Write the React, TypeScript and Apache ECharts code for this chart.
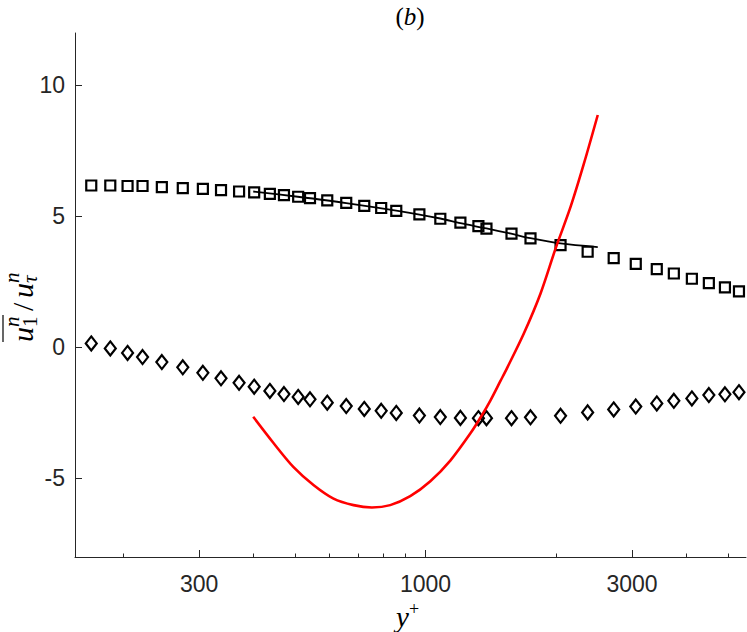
import React, { useEffect, useRef } from "react";
import * as echarts from "echarts";

// y+ positions shared by both marker series
const yPlus = [169, 187, 205, 222, 246, 275, 306, 337, 371, 402, 437, 471, 508, 541, 593, 656, 722, 790, 856, 968, 1082, 1204, 1325, 1383, 1580, 1748, 2051, 2369, 2721, 3060, 3422, 3747, 4124, 4514, 4917, 5298];
const squareVals = [6.18, 6.18, 6.16, 6.16, 6.12, 6.08, 6.05, 6.0, 5.95, 5.92, 5.86, 5.81, 5.75, 5.7, 5.61, 5.52, 5.4, 5.32, 5.21, 5.08, 4.91, 4.76, 4.63, 4.53, 4.34, 4.16, 3.9, 3.65, 3.41, 3.19, 2.99, 2.82, 2.62, 2.45, 2.29, 2.14];
const diamondVals = [0.15, -0.04, -0.21, -0.37, -0.56, -0.76, -0.97, -1.18, -1.35, -1.5, -1.66, -1.78, -1.89, -1.98, -2.11, -2.24, -2.35, -2.42, -2.5, -2.6, -2.66, -2.69, -2.7, -2.7, -2.7, -2.67, -2.61, -2.48, -2.37, -2.26, -2.14, -2.04, -1.95, -1.82, -1.79, -1.71];

// black fitted line
const fitYPlus = [400, 507, 656, 856, 1082, 1204, 1383, 1577, 1748, 2051, 2500];
const fitVals = [5.95, 5.75, 5.51, 5.22, 4.92, 4.74, 4.54, 4.34, 4.17, 3.97, 3.83];

// red curve
const redYPlus = [400, 445, 495, 551, 613, 682, 752, 829, 922, 1026, 1141, 1270, 1351, 1413, 1490, 1544, 1687, 1844, 1998, 2164, 2323, 2500];
const redVals = [-2.65, -3.64, -4.56, -5.25, -5.77, -6.02, -6.11, -6.02, -5.68, -5.11, -4.32, -3.28, -2.58, -2.02, -1.28, -0.78, 0.53, 2.06, 3.78, 5.37, 7.02, 8.87];

// axes
const xMajorTicks = [300, 1000, 3000];
const xMinorTicks = [200, 400, 500, 600, 700, 800, 900, 2000, 4000, 5000];
const yTicks = [-5, 0, 5, 10];
const xLimits = [155, 5500];
const yLimits = [-8, 12];

const lg = (v: number) => Math.log10(v);
const pairs = (xs: number[], ys: number[]) => xs.map((x, i) => [lg(x), ys[i]]);

export default function App() {
  const ref = useRef<HTMLDivElement>(null);

  useEffect(() => {
    document.body.style.margin = "0";
    const chart = echarts.init(ref.current as HTMLDivElement, null, { renderer: "svg" });
    const axisColor = "#262626";
    const sans = "Liberation Sans, Arial, sans-serif";
    const serif = "Liberation Serif, Times New Roman, serif";
    const fsMain = 30;
    const fsSmall = 21;

    chart.setOption({
      animation: false,
      grid: { left: 75, right: 1, top: 33, bottom: 75, containLabel: false },
      xAxis: [
        {
          type: "value",
          position: "bottom",
          min: lg(xLimits[0]),
          max: lg(xLimits[1]),
          axisLine: { show: true, onZero: false, lineStyle: { color: axisColor, width: 1 } },
          axisTick: { show: true, inside: true, length: 7, customValues: xMajorTicks.map(lg), lineStyle: { color: axisColor, width: 1 } },
          axisLabel: {
            show: true,
            customValues: xMajorTicks.map(lg),
            formatter: (v: number) => String(Math.round(Math.pow(10, v))),
            margin: 15,
            fontSize: 23,
            color: axisColor,
            fontFamily: sans,
          },
          splitLine: { show: false },
        },
        {
          type: "value",
          position: "bottom",
          min: lg(xLimits[0]),
          max: lg(xLimits[1]),
          axisLine: { show: false, onZero: false },
          axisTick: { show: true, inside: true, length: 3.5, customValues: xMinorTicks.map(lg), lineStyle: { color: axisColor, width: 1 } },
          axisLabel: { show: false },
          splitLine: { show: false },
        },
      ],
      yAxis: {
        type: "value",
        min: yLimits[0],
        max: yLimits[1],
        axisLine: { show: true, onZero: false, lineStyle: { color: axisColor, width: 1 } },
        axisTick: { show: true, inside: true, length: 7, customValues: yTicks, lineStyle: { color: axisColor, width: 1 } },
        axisLabel: {
          show: true,
          customValues: yTicks,
          formatter: (v: number) => String(v),
          margin: 10,
          fontSize: 23,
          color: axisColor,
          fontFamily: sans,
        },
        splitLine: { show: false },
      },
      series: [
        {
          type: "scatter",
          xAxisIndex: 0,
          data: pairs(yPlus, squareVals),
          symbol: "rect",
          symbolSize: 10,
          itemStyle: { color: "rgba(255,255,255,0)", borderColor: "#000", borderWidth: 2.2, opacity: 1 },
          silent: true,
        },
        {
          type: "scatter",
          xAxisIndex: 0,
          data: pairs(yPlus, diamondVals),
          symbol: "diamond",
          symbolSize: [11, 14],
          itemStyle: { color: "rgba(255,255,255,0)", borderColor: "#000", borderWidth: 2.2, opacity: 1 },
          silent: true,
        },
        {
          type: "line",
          xAxisIndex: 0,
          data: pairs(fitYPlus, fitVals),
          showSymbol: false,
          smooth: 0.3,
          lineStyle: { color: "#000", width: 1.8 },
          silent: true,
        },
        {
          type: "line",
          xAxisIndex: 0,
          data: pairs(redYPlus, redVals),
          showSymbol: false,
          smooth: 0.3,
          lineStyle: { color: "#ff0000", width: 2.6 },
          silent: true,
        },
      ],
      graphic: [
        {
          type: "text",
          x: 410,
          y: 16,
          style: {
            text: "{p|(}{b|b}{p|)}",
            align: "center",
            verticalAlign: "middle",
            rich: {
              p: { fontFamily: serif, fontSize: 25, fill: "#000" },
              b: { fontFamily: serif, fontStyle: "italic", fontSize: 25, fill: "#000" },
            },
          },
        },
        {
          type: "text",
          x: 396,
          y: 617,
          style: { text: "y", fontFamily: serif, fontStyle: "italic", fontSize: 29, fill: "#000", align: "left", verticalAlign: "middle" },
        },
        {
          type: "text",
          x: 409,
          y: 609,
          style: { text: "+", fontFamily: serif, fontSize: 18, fill: "#000", align: "left", verticalAlign: "middle" },
        },
        {
          type: "group",
          x: 31,
          y: 342,
          rotation: Math.PI / 2,
          children: [
            { type: "text", x: 0, y: -9, style: { text: "u", fontFamily: serif, fontStyle: "italic", fontSize: fsMain, fill: "#000", align: "left", verticalAlign: "middle" } },
            { type: "text", x: 15, y: -1, style: { text: "1", fontFamily: serif, fontSize: fsSmall, fill: "#000", align: "left", verticalAlign: "middle" } },
            { type: "text", x: 15, y: -19, style: { text: "n", fontFamily: serif, fontStyle: "italic", fontSize: fsSmall, fill: "#000", align: "left", verticalAlign: "middle" } },
            { type: "line", shape: { x1: 0, y1: -28, x2: 27, y2: -28 }, style: { stroke: "#000", lineWidth: 1.2 } },
            { type: "text", x: 31, y: -9, style: { text: "/", fontFamily: serif, fontSize: fsMain, fill: "#000", align: "left", verticalAlign: "middle" } },
            { type: "text", x: 44, y: -9, style: { text: "u", fontFamily: serif, fontStyle: "italic", fontSize: fsMain, fill: "#000", align: "left", verticalAlign: "middle" } },
            { type: "text", x: 59, y: -1, style: { text: "τ", fontFamily: serif, fontStyle: "italic", fontSize: fsSmall, fill: "#000", align: "left", verticalAlign: "middle" } },
            { type: "text", x: 59, y: -19, style: { text: "n", fontFamily: serif, fontStyle: "italic", fontSize: fsSmall, fill: "#000", align: "left", verticalAlign: "middle" } },
          ],
        },
      ],
    });

    return () => chart.dispose();
  }, []);

  return <div ref={ref} style={{ width: 747, height: 632 }} />;
}
